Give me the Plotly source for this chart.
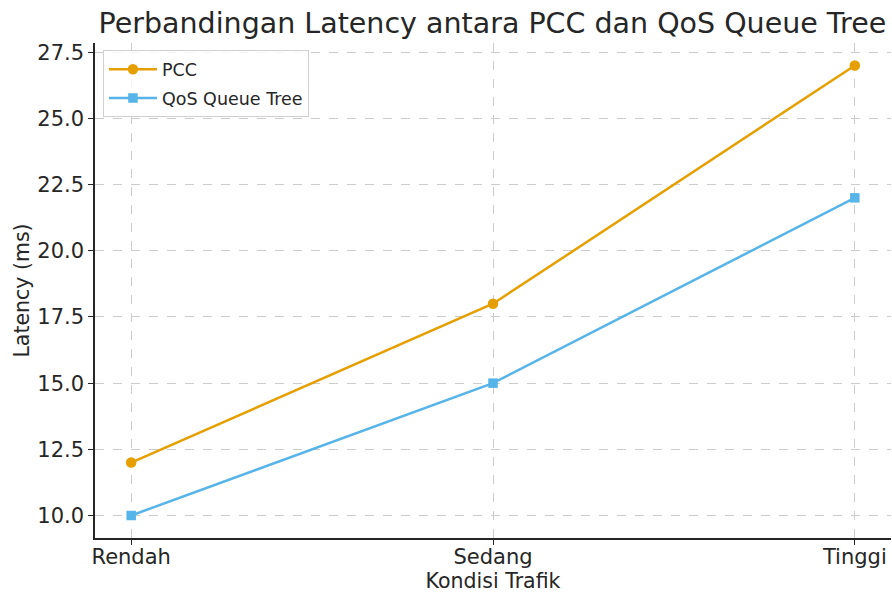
import plotly.graph_objects as go

categories = ["Rendah", "Sedang", "Tinggi"]
pcc = [12, 18, 27]
qos = [10, 15, 22]
y_ticks = [10.0, 12.5, 15.0, 17.5, 20.0, 22.5, 25.0, 27.5]
y_tick_labels = ["10.0", "12.5", "15.0", "17.5", "20.0", "22.5", "25.0", "27.5"]

x_idx = list(range(len(categories)))

fig = go.Figure()
fig.add_trace(go.Scatter(
    x=x_idx, y=pcc, mode="lines+markers", name="PCC", legendgroup="a",
    line=dict(color="#E69F00", width=2.5),
    marker=dict(symbol="circle", size=10.5, color="#E69F00"),
))
fig.add_trace(go.Scatter(
    x=x_idx, y=qos, mode="lines+markers", name="QoS Queue Tree", legendgroup="b",
    line=dict(color="#56B4E9", width=2.5),
    marker=dict(symbol="square", size=9.5, color="#56B4E9"),
))

font_family = "DejaVu Sans"
fig.update_layout(
    width=892, height=595,
    margin=dict(l=95, r=1, t=43, b=57),
    paper_bgcolor="white", plot_bgcolor="white",
    font=dict(family=font_family, color="#262626"),
    title=dict(text="Perbandingan Latency antara PCC dan QoS Queue Tree",
               x=0.552, xanchor="center", y=0.962, yanchor="middle",
               font=dict(size=28.5, color="#262626")),
    legend=dict(x=0.01, y=0.985, xanchor="left", yanchor="top",
                bgcolor="rgba(255,255,255,0.8)", bordercolor="#d0d0d0", borderwidth=1,
                font=dict(size=17.5, color="#262626"), itemwidth=48, tracegroupgap=3),
    showlegend=True,
)
fig.update_xaxes(
    range=[-0.1, 2.1], tickmode="array", tickvals=x_idx, ticktext=categories,
    showgrid=True, gridcolor="#cccccc", griddash="dash", gridwidth=1,
    showline=True, linecolor="#262626", linewidth=1.5, mirror=False,
    ticks="outside", ticklen=5, tickcolor="#262626", ticklabelstandoff=-6,
    tickfont=dict(size=21), zeroline=False,
    title=dict(text="Kondisi Trafik", font=dict(size=20.5), standoff=4),
)
fig.update_yaxes(
    range=[9.15, 27.85], tickmode="array", tickvals=y_ticks, ticktext=y_tick_labels,
    showgrid=True, gridcolor="#cccccc", griddash="dash", gridwidth=1,
    showline=True, linecolor="#262626", linewidth=1.5, mirror=False,
    ticks="outside", ticklen=5, tickcolor="#262626",
    tickfont=dict(size=21), zeroline=False,
    title=dict(text="Latency (ms)", font=dict(size=20.5), standoff=2),
)

fig.write_html("out.html", config={"displayModeBar": False},
               post_script="document.body.style.margin='0';document.body.style.padding='0';")
